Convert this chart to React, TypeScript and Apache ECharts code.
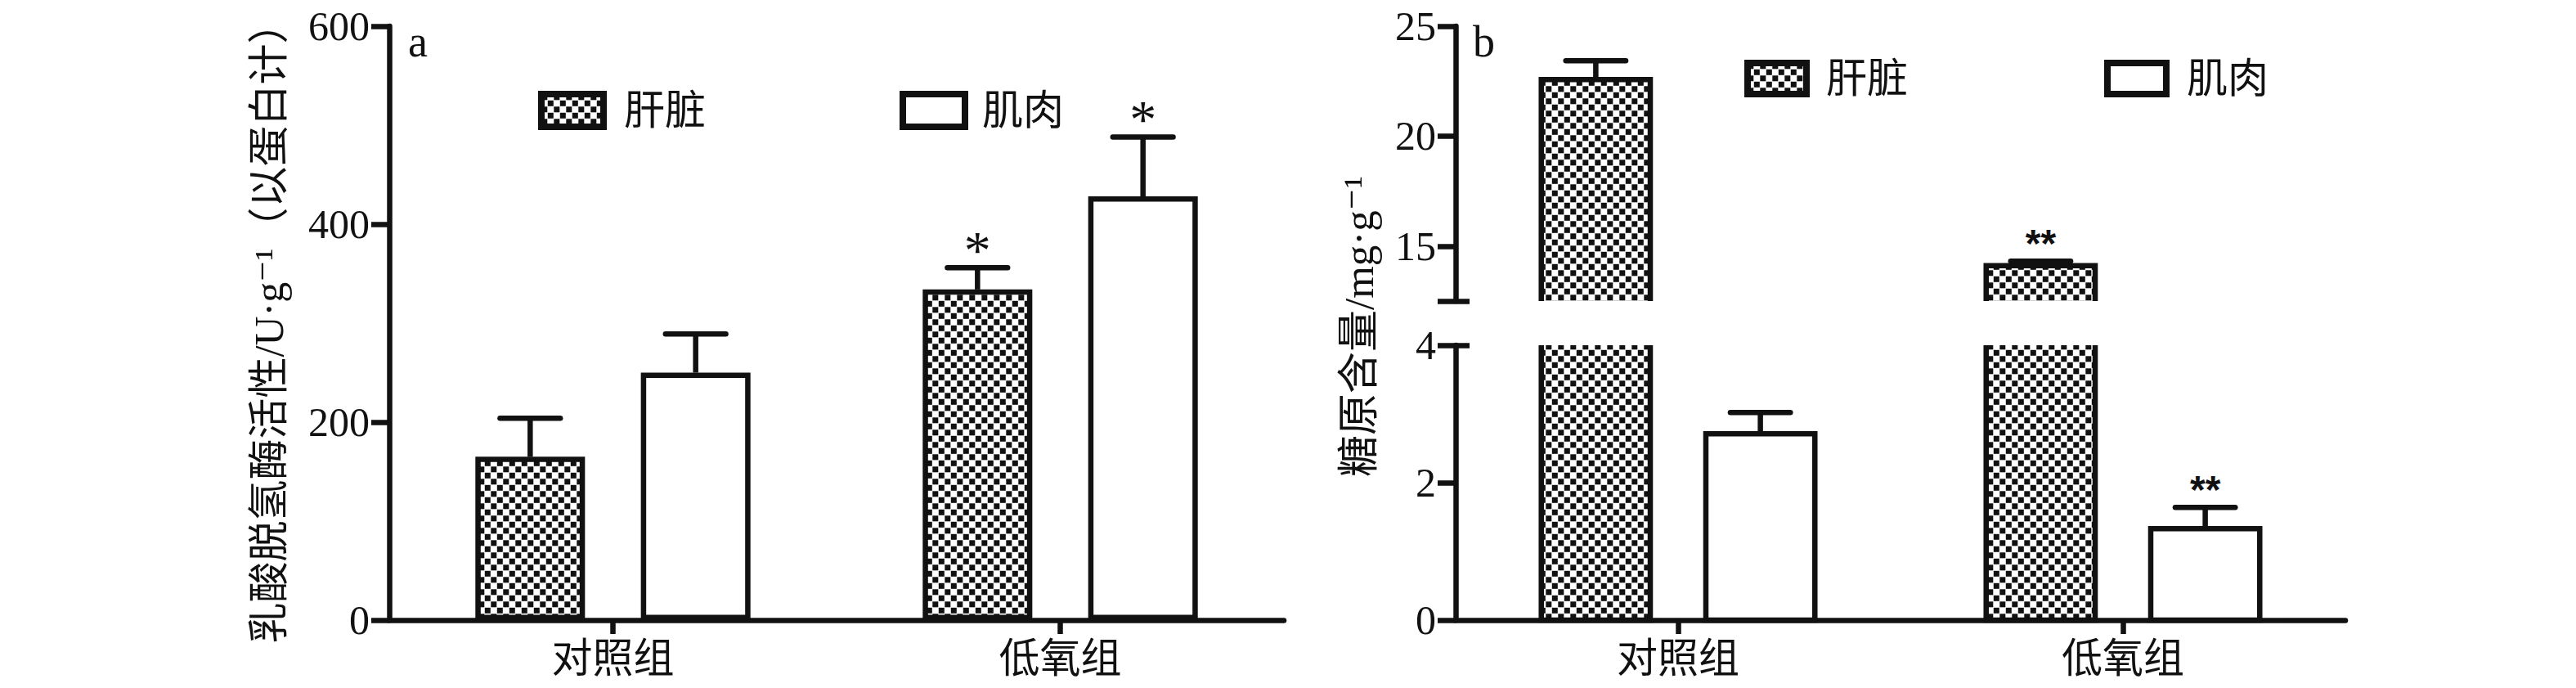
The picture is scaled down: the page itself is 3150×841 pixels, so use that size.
import React, { useEffect, useRef } from 'react';
import * as echarts from 'echarts';

// ---------- data ----------
const CATEGORIES = ['对照组', '低氧组'];
const SERIES_NAMES = ['肝脏', '肌肉'];

// panel a: lactate dehydrogenase activity (U·g-1)
const LDH_TICKS = [0, 200, 400, 600];
const LDH_LIVER = [165, 334];
const LDH_LIVER_ERR = [39, 22];
const LDH_LIVER_SIG = ['', '*'];
const LDH_MUSCLE = [250, 428];
const LDH_MUSCLE_ERR = [39, 60];
const LDH_MUSCLE_SIG = ['', '*'];

// panel b: glycogen content (mg·g-1), broken axis
const GLY_UPPER_RANGE = [12.5, 25];
const GLY_UPPER_TICKS = [15, 20, 25];
const GLY_LOWER_RANGE = [0, 4];
const GLY_LOWER_TICKS = [0, 2, 4];
const GLY_LIVER = [22.57, 14.11];
const GLY_LIVER_ERR = [0.86, 0.2];
const GLY_LIVER_SIG = ['', '**'];
const GLY_MUSCLE = [2.71, 1.33];
const GLY_MUSCLE_ERR = [0.31, 0.31];
const GLY_MUSCLE_SIG = ['', '**'];

const Y_NAME_A = '乳酸脱氢酶活性/U·g⁻¹（以蛋白计）';
const Y_NAME_B = '糖原含量/mg·g⁻¹';

// ---------- style ----------
const INK = '#111111';
const LW = 6.5;
const SERIF = "'Liberation Serif', 'DejaVu Serif', 'Noto Sans CJK SC', serif";
const CJK = "'Liberation Serif', 'Noto Sans CJK SC', serif";
const BAR_W = 0.245;
const BAR_GAP = 0.51;
const CAP_FRAC = 0.55;

const checkerSvg =
  "<svg xmlns='http://www.w3.org/2000/svg' width='15' height='15'>" +
  "<rect width='15' height='15' fill='#ffffff'/>" +
  "<rect x='0.3' y='0.3' width='7' height='7' fill='#111111'/>" +
  "<rect x='7.8' y='7.8' width='7' height='7' fill='#111111'/></svg>";
const CHECKER: any = {
  image: 'data:image/svg+xml;charset=utf-8,' + encodeURIComponent(checkerSvg),
  repeat: 'repeat',
  imageWidth: 15,
  imageHeight: 15,
};

function barGeom(api: any, cat: number, k: number, yRef: number) {
  const c = api.coord([cat, yRef])[0];
  const band = api.size([1, 0])[0];
  const bw = band * BAR_W;
  const off = (bw + bw * BAR_GAP) / 2;
  return { cx: k === 0 ? c - off : c + off, bw };
}

function errSeries(
  name: string, xi: number, yi: number, vals: number[], errs: number[],
  sigs: string[], k: number, starFont: any
) {
  return {
    type: 'custom',
    name,
    xAxisIndex: xi,
    yAxisIndex: yi,
    z: 5,
    silent: true,
    encode: { x: 0, y: 1 },
    data: vals.map((v, i) => [i, v, errs[i]]),
    renderItem: (params: any, api: any) => {
      const i = params.dataIndex;
      const v = api.value(1);
      const e = api.value(2);
      const { cx, bw } = barGeom(api, i, k, v);
      const yTop = api.coord([i, v])[1];
      const yCap = api.coord([i, v + e])[1];
      const half = (bw * CAP_FRAC) / 2;
      const children: any[] = [
        { type: 'line', shape: { x1: cx, y1: yTop, x2: cx, y2: yCap }, style: { stroke: INK, lineWidth: LW } },
        {
          type: 'line',
          shape: { x1: cx - half, y1: yCap, x2: cx + half, y2: yCap },
          style: { stroke: INK, lineWidth: LW, lineCap: 'round' },
        },
      ];
      if (sigs[i]) {
        children.push({
          type: 'text',
          x: cx,
          y: yCap - starFont.offset,
          style: {
            text: sigs[i],
            fill: INK,
            fontSize: starFont.size,
            fontFamily: starFont.family,
            fontWeight: starFont.weight,
            align: 'center',
            verticalAlign: 'middle',
          },
        });
      }
      return { type: 'group', children };
    },
  };
}

function valueAxisBase(gridIndex: number) {
  return {
    type: 'value',
    gridIndex,
    position: 'left',
    splitLine: { show: false },
    axisLine: { show: true, lineStyle: { color: INK, width: LW } },
    axisTick: { show: true, inside: false, length: 22, lineStyle: { color: INK, width: LW } },
    axisLabel: { color: INK, fontSize: 50, fontFamily: SERIF, margin: 24 },
  };
}

function auxAxis(gridIndex: number, range: number[], at: number) {
  return {
    type: 'value',
    gridIndex,
    position: 'left',
    offset: 0,
    min: range[0],
    max: range[1],
    splitLine: { show: false },
    axisLine: { show: false, onZero: false },
    axisLabel: { show: false },
    axisTick: {
      show: true, inside: true, length: 17,
      customValues: [at],
      lineStyle: { color: INK, width: LW },
    },
  };
}

function catAxis(gridIndex: number, show: boolean) {
  return {
    type: 'category',
    gridIndex,
    data: CATEGORIES,
    show,
    axisLine: { show: true, lineStyle: { color: INK, width: LW } },
    axisTick: { show: true, alignWithLabel: true, length: 17, lineStyle: { color: INK, width: LW } },
    axisLabel: { color: INK, fontSize: 50, fontFamily: CJK, margin: 22 },
  };
}

function legendItems(y0: number, w: number, h: number, textX: number[], swX: number[]) {
  const out: any[] = [];
  SERIES_NAMES.forEach((n, idx) => {
    out.push({
      type: 'rect',
      x: swX[idx],
      y: y0,
      shape: { x: 0, y: 0, width: w, height: h },
      style: { fill: idx === 0 ? CHECKER : '#ffffff', stroke: INK, lineWidth: 8 },
    });
    out.push({
      type: 'text',
      x: textX[idx],
      y: y0 + h / 2,
      style: { text: n, fill: INK, fontSize: 50, fontFamily: CJK, align: 'left', verticalAlign: 'middle' },
    });
  });
  return out;
}

export default function App() {
  const ref = useRef<HTMLDivElement>(null);
  useEffect(() => {
    document.body.style.margin = '0';
    const chart = echarts.init(ref.current!, null, { renderer: 'svg' });

    const option: any = {
      animation: false,
      backgroundColor: '#ffffff',
      grid: [
        { left: 476, top: 32, width: 1094, height: 726, outerBoundsMode: 'none', containLabel: false },
        { left: 1780, top: 32, width: 1088, height: 336, outerBoundsMode: 'none', containLabel: false },
        { left: 1780, top: 422, width: 1088, height: 336, outerBoundsMode: 'none', containLabel: false },
      ],
      xAxis: [catAxis(0, true), catAxis(1, false), catAxis(2, true)],
      yAxis: [
        {
          ...valueAxisBase(0),
          min: LDH_TICKS[0],
          max: LDH_TICKS[LDH_TICKS.length - 1],
          interval: LDH_TICKS[1] - LDH_TICKS[0],
          name: Y_NAME_A,
          nameLocation: 'middle',
          nameRotate: 90,
          nameGap: 122,
          nameTextStyle: { color: INK, fontSize: 50, fontFamily: SERIF },
        },
        {
          ...valueAxisBase(1),
          min: GLY_UPPER_RANGE[0],
          max: GLY_UPPER_RANGE[1],
          axisTick: {
            show: true, inside: false, length: 22,
            customValues: [GLY_UPPER_RANGE[0], ...GLY_UPPER_TICKS],
            lineStyle: { color: INK, width: LW },
          },
          axisLabel: { color: INK, fontSize: 50, fontFamily: SERIF, margin: 24, customValues: GLY_UPPER_TICKS },
        },
        {
          ...valueAxisBase(2),
          min: GLY_LOWER_RANGE[0],
          max: GLY_LOWER_RANGE[1],
          interval: GLY_LOWER_TICKS[1] - GLY_LOWER_TICKS[0],
        },
        auxAxis(1, GLY_UPPER_RANGE, GLY_UPPER_RANGE[0]),
        auxAxis(2, GLY_LOWER_RANGE, GLY_LOWER_RANGE[1]),
      ],
      series: [
        // ---- panel a ----
        {
          type: 'bar',
          name: SERIES_NAMES[0],
          xAxisIndex: 0,
          yAxisIndex: 0,
          data: LDH_LIVER,
          barWidth: `${BAR_W * 100}%`,
          barGap: `${BAR_GAP * 100}%`,
          itemStyle: { color: CHECKER, borderColor: INK, borderWidth: LW },
          silent: true,
        },
        {
          type: 'bar',
          name: SERIES_NAMES[1],
          xAxisIndex: 0,
          yAxisIndex: 0,
          data: LDH_MUSCLE,
          barWidth: `${BAR_W * 100}%`,
          barGap: `${BAR_GAP * 100}%`,
          itemStyle: { color: '#ffffff', borderColor: INK, borderWidth: LW },
          silent: true,
        },
        errSeries('ldh-liver-err', 0, 0, LDH_LIVER, LDH_LIVER_ERR, LDH_LIVER_SIG, 0,
          { size: 66, family: SERIF, weight: 'normal', offset: 22 }),
        errSeries('ldh-muscle-err', 0, 0, LDH_MUSCLE, LDH_MUSCLE_ERR, LDH_MUSCLE_SIG, 1,
          { size: 66, family: SERIF, weight: 'normal', offset: 22 }),
        // ---- panel b, upper part (liver) ----
        {
          type: 'custom',
          name: SERIES_NAMES[0],
          xAxisIndex: 1,
          yAxisIndex: 1,
          silent: true,
          encode: { x: 0, y: 1 },
          data: GLY_LIVER.map((v, i) => [i, v]),
          renderItem: (params: any, api: any) => {
            const i = params.dataIndex;
            const v = api.value(1);
            const { cx, bw } = barGeom(api, i, 0, v);
            const l = cx - bw / 2;
            const r = cx + bw / 2;
            const yTop = api.coord([i, v])[1];
            const yBot = api.coord([i, GLY_UPPER_RANGE[0]])[1];
            return {
              type: 'group',
              children: [
                { type: 'rect', shape: { x: l, y: yTop, width: bw, height: yBot - yTop }, style: { fill: CHECKER } },
                {
                  type: 'polyline',
                  shape: { points: [[l, yBot], [l, yTop], [r, yTop], [r, yBot]] },
                  style: { stroke: INK, lineWidth: LW, fill: 'none' },
                },
              ],
            };
          },
        },
        // ---- panel b, lower part (liver, cut at the break) ----
        {
          type: 'custom',
          name: SERIES_NAMES[0] + '-low',
          xAxisIndex: 2,
          yAxisIndex: 2,
          silent: true,
          encode: { x: 0, y: 1 },
          data: GLY_LIVER.map((v, i) => [i, v]),
          renderItem: (params: any, api: any) => {
            const i = params.dataIndex;
            const v = Math.min(api.value(1), GLY_LOWER_RANGE[1]);
            const { cx, bw } = barGeom(api, i, 0, v);
            const l = cx - bw / 2;
            const r = cx + bw / 2;
            const yTop = api.coord([i, v])[1];
            const yBot = api.coord([i, GLY_LOWER_RANGE[0]])[1];
            return {
              type: 'group',
              children: [
                { type: 'rect', shape: { x: l, y: yTop, width: bw, height: yBot - yTop }, style: { fill: CHECKER } },
                {
                  type: 'polyline',
                  shape: { points: [[l, yTop], [l, yBot], [r, yBot], [r, yTop]] },
                  style: { stroke: INK, lineWidth: LW, fill: 'none' },
                },
              ],
            };
          },
        },
        // ---- panel b, muscle ----
        {
          type: 'custom',
          name: SERIES_NAMES[1],
          xAxisIndex: 2,
          yAxisIndex: 2,
          silent: true,
          encode: { x: 0, y: 1 },
          data: GLY_MUSCLE.map((v, i) => [i, v]),
          renderItem: (params: any, api: any) => {
            const i = params.dataIndex;
            const v = api.value(1);
            const { cx, bw } = barGeom(api, i, 1, v);
            const yTop = api.coord([i, v])[1];
            const yBot = api.coord([i, GLY_LOWER_RANGE[0]])[1];
            return {
              type: 'rect',
              shape: { x: cx - bw / 2, y: yTop, width: bw, height: yBot - yTop },
              style: { fill: '#ffffff', stroke: INK, lineWidth: LW },
            };
          },
        },
        errSeries('gly-liver-err', 1, 1, GLY_LIVER, GLY_LIVER_ERR, GLY_LIVER_SIG, 0,
          { size: 48, family: "'Liberation Sans', sans-serif", weight: 'bold', offset: 22 }),
        errSeries('gly-muscle-err', 2, 2, GLY_MUSCLE, GLY_MUSCLE_ERR, GLY_MUSCLE_SIG, 1,
          { size: 48, family: "'Liberation Sans', sans-serif", weight: 'bold', offset: 22 }),
      ],
      graphic: [
        {
          type: 'text', x: 499, y: 24,
          style: { text: 'a', fill: INK, fontSize: 54, fontFamily: SERIF, align: 'left', verticalAlign: 'top' },
        },
        {
          type: 'text', x: 1801, y: 24,
          style: { text: 'b', fill: INK, fontSize: 54, fontFamily: SERIF, align: 'left', verticalAlign: 'top' },
        },
        {
          type: 'text', x: 1662, y: 399, rotation: Math.PI / 2,
          style: { text: Y_NAME_B, fill: INK, fontSize: 51, fontFamily: SERIF, align: 'center', verticalAlign: 'middle' },
        },
        ...legendItems(115, 76, 40, [763, 1201], [662, 1104]),
        ...legendItems(77, 72, 38, [2233, 2674], [2137, 2577]),
      ],
    };

    chart.setOption(option);
    return () => chart.dispose();
  }, []);

  return <div ref={ref} style={{ width: 3150, height: 841 }} />;
}
